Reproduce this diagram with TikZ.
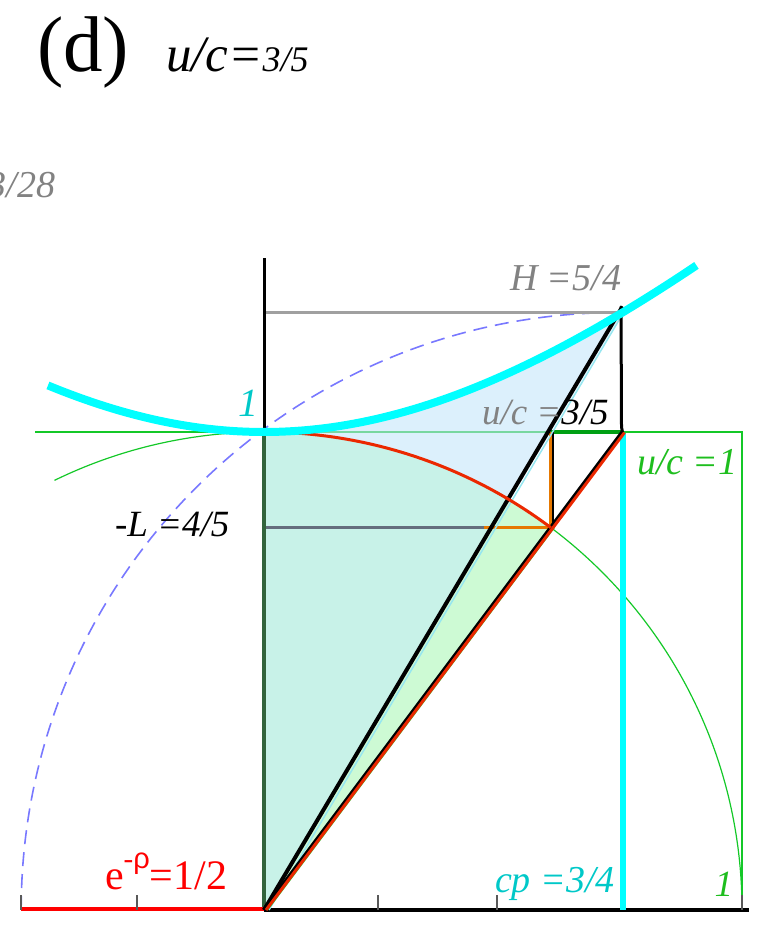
\documentclass[tikz,border=0pt]{standalone}
\usepackage{fontspec}
\setmainfont{Liberation Serif}
\newfontfamily\sansrho{Liberation Sans}
\definecolor{lblue}{RGB}{220,240,252}
\definecolor{lteal}{RGB}{200,242,232}
\definecolor{lgreen}{RGB}{205,250,212}
\definecolor{cyanc}{RGB}{0,255,255}
\definecolor{cyantext}{RGB}{0,200,200}
\definecolor{lcyan}{RGB}{150,230,240}
\definecolor{grn}{RGB}{20,200,40}
\definecolor{grnlight}{RGB}{120,215,160}
\definecolor{darkgrn}{RGB}{0,160,20}
\definecolor{axisgrn}{RGB}{50,100,60}
\definecolor{redl}{RGB}{235,40,0}
\definecolor{redt}{RGB}{255,0,0}
\definecolor{orangel}{RGB}{230,120,0}
\definecolor{dashblue}{RGB}{120,120,255}
\definecolor{grayl}{RGB}{160,160,160}
\definecolor{grayd}{RGB}{100,110,125}
\definecolor{graytext}{RGB}{130,130,130}
\definecolor{grntext}{RGB}{30,190,30}
\tikzset{
  tickmark/.style={draw=black!65,line width=1.5pt},
  lbl/.style={inner sep=0pt,outer sep=0pt},
}
\begin{document}
\begin{tikzpicture}[x=1pt,y=1pt]
\useasboundingbox (0,0) rectangle (780,925);
\begin{scope}[shift={(264,15)},x=478pt,y=478pt]
  \coordinate (O) at (0,0);
  \coordinate (Y1) at (0,1);
  \coordinate (P) at (0.75,1.25);
  \coordinate (Q) at (0.75,1);
  \coordinate (R) at (0.6,0.8);
  \coordinate (S) at (0.6,1);
  \coordinate (Lh) at (0,0.8);
  \coordinate (Lm) at (0.46,0.8);
  \coordinate (Hh) at (0,1.25);
  \coordinate (Ytop) at (0,1.364);
  \coordinate (Xend) at (1.015,0);
  \coordinate (Xleft) at (-0.508,0);
  \coordinate (Xone) at (1,0);
  \coordinate (Bone) at (1,1);
  \coordinate (Bbot) at (1,0.032);
  \coordinate (Gl) at (-0.479,1);
  \coordinate (Cb) at (0.75,0);
  % fills
  \fill[lgreen] (O) -- (Y1) arc[start angle=90,end angle=53.13,radius=1] -- cycle;
  \fill[lblue] (O) -- (Y1) -- plot[domain=0:0.75,samples=40] (\x,{sqrt(1+\x*\x)}) -- cycle;
  \begin{scope}
    \clip (O) -- (Y1) arc[start angle=90,end angle=53.13,radius=1] -- cycle;
    \fill[lteal] (O) -- (Y1) -- plot[domain=0:0.75,samples=40] (\x,{sqrt(1+\x*\x)}) -- cycle;
  \end{scope}
  % thin green lines
  \draw[grn,line width=2.2pt] (Gl) -- (Y1);
  \draw[grnlight,line width=2pt] (Y1) -- (S);
  \draw[grn,line width=1.2pt] (Xone) arc[start angle=0,end angle=116,radius=1];
  % dashed blue circle
  \draw[dashblue,line width=1.6pt,dash pattern=on 14pt off 8pt] (Xleft) arc[start angle=180,end angle=90,radius=1.25];
  % gray lines
  \draw[grayl,line width=3pt] (Hh) -- (P);
  \draw[grayd,line width=2.5pt] (Lh) -- (Lm);
  % axes
  \draw[axisgrn,line width=3.5pt] (O) -- (Y1);
  \draw[black,line width=3pt] (Y1) -- (Ytop);
  \draw[black,line width=3.5pt] (O) -- (Xend);
  \draw[black!60,line width=2.5pt] (Xleft) -- (O);
  \draw[redt,line width=4.5pt] ([yshift=1pt]Xleft) -- ([yshift=1pt]O);
  \foreach \t in {-0.508,-0.266,0.238,0.487,0.75,1}
    \draw[tickmark] (\t,0) -- (\t,0.032);
  % cyan vertical
  \draw[cyanc,line width=6pt] (Cb) -- (Q);
  % green box
  \draw[grn,line width=2pt] (Q) -- (Bone) -- (Bbot);
  \draw[darkgrn,line width=3.5pt] (S) -- (Q);
  % orange small triangle
  \draw[black,line width=1.8pt] ([xshift=2.5pt]S) -- ([xshift=2.5pt]R);
  \draw[orangel,line width=3pt] (S) -- (R);
  \draw[orangel,line width=3pt] (Lm) -- (R);
  % steep black line and thin cyan
  \draw[lcyan,line width=1.5pt] ([xshift=5pt]O) -- ([xshift=1pt]P);
  \draw[black,line width=4pt] (O) -- ([yshift=6pt]P);
  % lower black + red line
  \draw[black,line width=4pt] (O) -- (Q);
  \draw[grn,line width=1.2pt] ([xshift=3.5pt]O) -- ([xshift=3.5pt]R);
  \draw[redl,line width=3pt] ([xshift=2pt]O) -- ([xshift=2pt,yshift=-0.5pt]Q);
  % black vertical at P
  \draw[black,line width=3pt] ([xshift=-1.5pt,yshift=6pt]P) -- ([xshift=-1pt,yshift=5pt]Q) -- (Q);
  % red arc
  \draw[redl,line width=3pt] ([xshift=-3pt]Y1) -- (Y1) arc[start angle=90,end angle=53.13,radius=1];
  % hyperbola
  \draw[cyanc,line width=8pt] plot[domain=-0.452:0.906,samples=90] (\x,{sqrt(1+\x*\x)});
\end{scope}
% texts
\node[lbl,anchor=base west] (title) at (37,853) {\fontsize{79}{79}\selectfont (d)};
\node[lbl,anchor=base west] (uc) at (166,853) {\fontsize{51}{51}\selectfont\itshape u/c=\fontsize{36}{36}\selectfont 3/5};
\node[lbl,anchor=base east,text=graytext] (ref) at (55,727) {\fontsize{38}{38}\selectfont\itshape 3/28};
\node[lbl,anchor=base west,text=graytext] (H) at (510,634) {\fontsize{38}{38}\selectfont\itshape H =5/4};
\node[lbl,anchor=base west,text=graytext] (uc35) at (482,500) {\fontsize{37}{37}\selectfont\itshape u/c =\textcolor{black}{3/5}};
\node[lbl,anchor=base east,text=cyantext] (one) at (258,508) {\fontsize{40}{40}\selectfont\itshape 1};
\node[lbl,anchor=base west,text=grntext] (uc1) at (637,450) {\fontsize{38}{38}\selectfont\itshape u/c =1};
\node[lbl,anchor=base west] (L) at (115,388) {\fontsize{37}{37}\selectfont\itshape -L =4/5};
\node[lbl,anchor=base west,text=redt] (rho) at (105,35) {\fontsize{42}{42}\selectfont e\raisebox{0.5em}{\fontsize{29}{29}\selectfont -\sansrho ρ}=1/2};
\node[lbl,anchor=base west,text=cyantext] (cp) at (495,32) {\fontsize{38}{38}\selectfont\itshape cp =3/4};
\node[lbl,anchor=base east,text=grntext] (one2) at (733,28) {\fontsize{37}{37}\selectfont\itshape 1};
\end{tikzpicture}
\end{document}
